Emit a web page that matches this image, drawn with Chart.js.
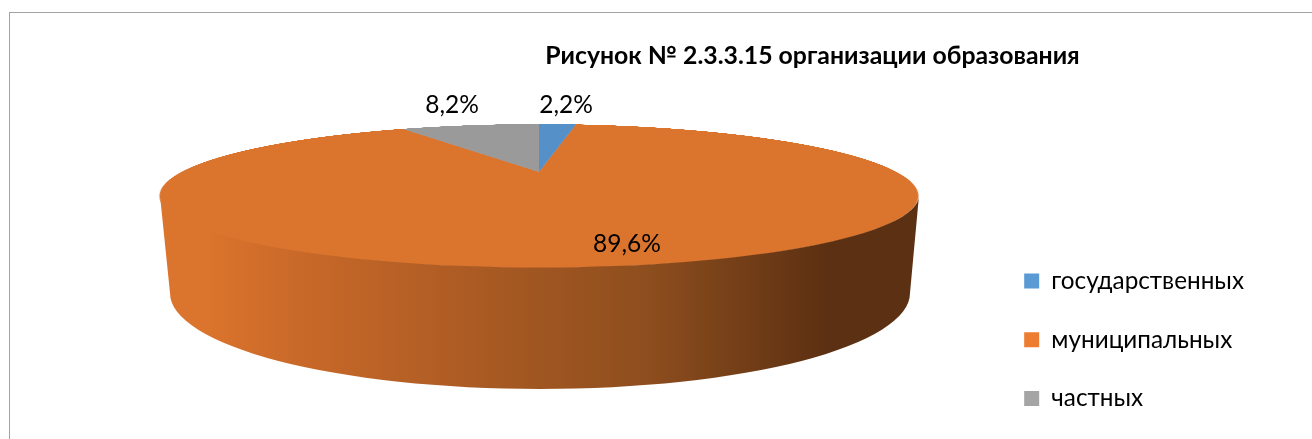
<!DOCTYPE html>
<html>
<head>
<meta charset="utf-8">
<script src="https://cdn.jsdelivr.net/npm/chart.js@4"></script>
<style>
  html, body { margin: 0; background: #fff; overflow: hidden; }
  #page { position: relative; width: 1312px; height: 439px; overflow: hidden; }
  #frame { position: absolute; left: 9px; top: 12px; right: -5px; bottom: -5px; border: 1px solid #a3a3a3; }
  canvas { position: absolute; }
  #topFace { left: 139px; top: -228px; }
  #overlay { left: 0; top: 0; }
</style>
</head>
<body>
<div id="page">
  <div id="frame"></div>
  <canvas id="topFace" width="800" height="800"></canvas>
  <canvas id="overlay" width="1312" height="439"></canvas>
</div>
<script>
const categories = ['государственных', 'муниципальных', 'частных'];
const shares = [2.2, 89.6, 8.2];
const legendColors = ['#5B9BD5', '#ED7D31', '#A5A5A5'];
const faceColors = ['#5591C8', '#DB742D', '#9A9A9A'];
const chartTitle = 'Рисунок № 2.3.3.15 организации образования';
const fontName = 'Lato, "Open Sans", sans-serif';

// hand placed labels, same as in the original
const labelSpots = [[566, 105], [627, 244], [452, 105]];

// top face: circle seen in perspective, apex sits above the ellipse centre
const R = 400;
const persp = -1 / 3;
const faceX = 379.5 / 1.0607;
const faceY = 64;
document.getElementById('topFace').style.transform =
  `matrix3d(${faceX / R},0,0,0, 0,${faceY / R},0,${persp / R}, 0,0,1,0, 0,0,0,1)`;

new Chart(document.getElementById('topFace'), {
  type: 'pie',
  data: {
    labels: categories,
    datasets: [{ data: shares, backgroundColor: faceColors, borderWidth: 0 }]
  },
  options: {
    responsive: false,
    animation: false,
    devicePixelRatio: 2,
    layout: { padding: 0 },
    plugins: { legend: { display: false }, tooltip: { enabled: false } }
  }
});

// side wall and value labels, pie arcs themselves are on the canvas below
const wallPlugin = {
  id: 'wall',
  beforeDraw(chart) {
    const ctx = chart.ctx;
    const grad = ctx.createLinearGradient(160, 0, 919, 0);
    grad.addColorStop(0, '#DB742D');
    grad.addColorStop(0.06, '#DB742C');
    grad.addColorStop(0.18, '#C96929');
    grad.addColorStop(0.46, '#A55822');
    grad.addColorStop(0.64, '#8E4E1E');
    grad.addColorStop(0.72, '#7D441A');
    grad.addColorStop(0.88, '#5C3012');
    grad.addColorStop(1, '#5C3012');
    ctx.save();
    ctx.beginPath();
    // a bit over the face edge so no light seam is left between them
    ctx.ellipse(539.5, 195.5, 379.5, 72, 0, 0, Math.PI);
    ctx.ellipse(540, 293, 370, 96, 0, Math.PI, 0, true);
    ctx.closePath();
    ctx.fillStyle = grad;
    ctx.fill();
    ctx.restore();
  },
  beforeDatasetsDraw() {
    return false;
  },
  afterDraw(chart) {
    const ctx = chart.ctx;
    ctx.save();
    ctx.font = '24.5px ' + fontName;
    ctx.fillStyle = '#000';
    ctx.textAlign = 'center';
    ctx.textBaseline = 'middle';
    shares.forEach((v, i) => {
      const txt = v.toFixed(1).replace('.', ',') + '%';
      ctx.fillText(txt, labelSpots[i][0], labelSpots[i][1]);
    });
    ctx.restore();
  }
};

new Chart(document.getElementById('overlay'), {
  type: 'pie',
  data: {
    labels: categories,
    datasets: [{ data: shares, backgroundColor: legendColors, borderWidth: 0 }]
  },
  options: {
    responsive: false,
    animation: false,
    layout: { padding: { left: 371, right: 58, top: 0, bottom: -6 } },
    plugins: {
      title: {
        display: true,
        text: chartTitle,
        color: '#000',
        font: { family: fontName, size: 24.8, weight: 'bold' },
        padding: { top: 41, bottom: 10 }
      },
      legend: {
        position: 'right',
        align: 'end',
        labels: {
          color: '#000',
          font: { family: fontName, size: 24.3 },
          boxWidth: 15,
          boxHeight: 15,
          padding: 34.4
        }
      },
      tooltip: { enabled: false }
    }
  },
  plugins: [wallPlugin]
});
</script>
</body>
</html>
